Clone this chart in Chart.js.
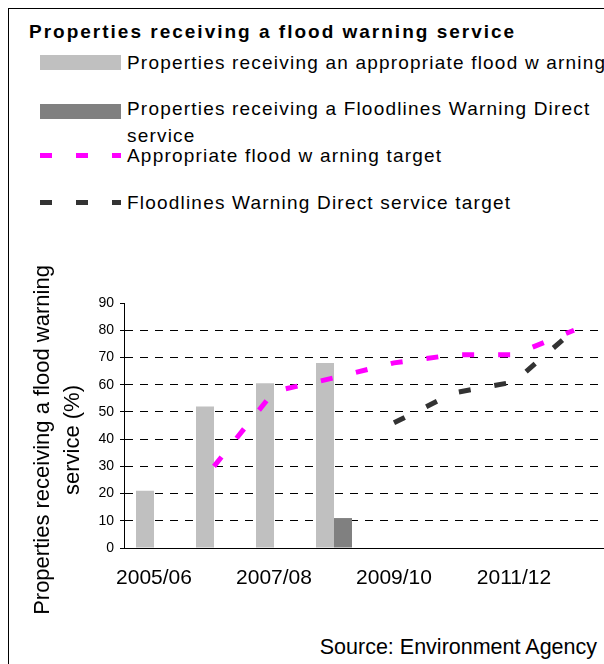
<!DOCTYPE html>
<html>
<head>
<meta charset="utf-8">
<title>Properties receiving a flood warning service</title>
<script src="https://cdn.jsdelivr.net/npm/chart.js@4.4.1/dist/chart.umd.min.js"></script>
<style>
  html, body { margin: 0; padding: 0; background: #fff; }
  body { width: 604px; height: 664px; position: relative; overflow: hidden;
         font-family: "Liberation Sans", Arial, sans-serif; color: #000; }
  #frame { position: absolute; left: 8px; top: 8px; width: 700px; height: 700px; border: 1px solid #000; }
  #title { position: absolute; left: 29px; top: 22px; font-size: 19px; font-weight: bold;
           letter-spacing: 2px; line-height: 20px; white-space: nowrap; }
  #legend { position: absolute; left: 40px; top: 0; width: 564px; }
  .item { position: absolute; left: 0; width: 600px; }
  .swatch { position: absolute; left: 0; width: 81px; }
  .label { position: absolute; left: 87px; width: 490px; font-size: 19px; line-height: 27px; letter-spacing: 1.2px; }
  #wrap { position: absolute; left: 0; top: 240px; width: 604px; height: 390px; }
  #ytitle { position: absolute; left: -143px; top: 410px; width: 400px; height: 60px;
            transform: rotate(-90deg); transform-origin: 50% 50%;
            text-align: center; font-size: 22px; line-height: 30px; white-space: nowrap; }
  #source { position: absolute; right: 7px; top: 637px; font-size: 21.5px; line-height: 21px; white-space: nowrap; }
</style>
</head>
<body>
<div id="frame"></div>
<div id="title">Properties receiving a flood warning service</div>
<div id="legend"></div>
<div id="wrap"><canvas id="chart" width="604" height="390"></canvas></div>
<div id="ytitle"></div>
<div id="source">Source: Environment Agency</div>
<script>
// data (%)
const categories = ['2005/06', '2006/07', '2007/08', '2008/09', '2009/10', '2010/11', '2011/12', '2012/13'];
const appropriateWarning = [21, 52, 60.5, 68, null, null, null, null];
const floodlinesDirect = [null, null, null, 11, null, null, null, null];
const appropriateTarget = [null, 30, 57.5, 62.5, 68, 71, 71, 80];
const floodlinesTarget = [null, null, null, null, 46, 57, 61, 80];
const xTickLabels = ['2005/06', '2007/08', '2009/10', '2011/12'];
const yMin = 0, yMax = 90, yStep = 10;
const yTitle = ['Properties receiving a flood warning', 'service (%)'];

const seriesNames = [
  'Properties receiving an appropriate flood w arning',
  'Properties receiving a Floodlines Warning Direct service',
  'Appropriate flood w arning target',
  'Floodlines Warning Direct service target'
];

// legend + y title drawn as html (the y title sits lower than chart.js would centre it)
const htmlParts = {
  id: 'htmlParts',
  afterUpdate(chart) {
    const box = document.getElementById('legend');
    box.innerHTML = '';
    chart.data.datasets.forEach((ds, i) => {
      const mid = 62 + i * 46.7;
      const item = document.createElement('div');
      item.className = 'item';
      item.style.top = (mid - 13.5) + 'px';
      const sw = document.createElement('div');
      sw.className = 'swatch';
      if (ds.type === 'line') {
        sw.style.top = '11px';
        sw.style.height = '5px';
        sw.style.background = 'repeating-linear-gradient(to right, ' + ds.borderColor +
          ' 0 12px, transparent 12px 36px)';
      } else {
        sw.style.top = (i === 1 ? 9 : 6) + 'px';
        sw.style.height = '15px';
        sw.style.background = ds.backgroundColor;
      }
      const lb = document.createElement('div');
      lb.className = 'label';
      lb.textContent = ds.label;
      item.appendChild(sw);
      item.appendChild(lb);
      box.appendChild(item);
    });
    const yt = document.getElementById('ytitle');
    yt.innerHTML = '';
    chart.options.scales.y.title.text.forEach((t) => {
      const d = document.createElement('div');
      d.textContent = t;
      yt.appendChild(d);
    });
  }
};

const lineStyle = {
  type: 'line',
  borderWidth: 5,
  borderDash: [12, 24],
  borderCapStyle: 'butt',
  pointRadius: 0,
  pointHoverRadius: 0,
  tension: 0,
  fill: false,
  order: 0
};

new Chart(document.getElementById('chart'), {
  type: 'bar',
  data: {
    labels: categories,
    datasets: [
      { label: seriesNames[0], data: appropriateWarning, backgroundColor: '#c0c0c0', order: 1 },
      { label: seriesNames[1], data: floodlinesDirect, backgroundColor: '#808080', order: 1 },
      Object.assign({ label: seriesNames[2], data: appropriateTarget, borderColor: '#ff00ff' }, lineStyle),
      Object.assign({ label: seriesNames[3], data: floodlinesTarget, borderColor: '#333333' }, lineStyle)
    ]
  },
  options: {
    responsive: false,
    animation: false,
    categoryPercentage: 0.6,
    barPercentage: 1.0,
    layout: { padding: { top: 63, right: 0, bottom: 0, left: 0 } },
    plugins: {
      legend: { display: false },
      tooltip: { enabled: false }
    },
    scales: {
      x: {
        grid: { display: false, drawTicks: false },
        border: { color: '#000', width: 1 },
        ticks: {
          autoSkip: false,
          maxRotation: 0,
          padding: 18,
          color: '#000',
          font: { family: 'Liberation Sans', size: 21 },
          callback: function (value) {
            const name = this.getLabelForValue(value);
            return xTickLabels.includes(name) ? name : '';
          }
        },
        afterFit(scale) { scale.height = 82; }
      },
      y: {
        min: yMin,
        max: yMax,
        grid: {
          color: (ctx) => (ctx.tick && (ctx.tick.value === yMin || ctx.tick.value === yMax)) ? 'rgba(0,0,0,0)' : '#000',
          tickColor: '#000',
          tickLength: 4,
          tickBorderDash: []
        },
        border: { color: '#000', width: 1, dash: [8, 7] },
        ticks: {
          stepSize: yStep,
          padding: 6,
          color: '#000',
          font: { family: 'Liberation Sans', size: 14 }
        },
        title: { display: false, text: yTitle },
        afterFit(scale) { scale.width = 124; }
      }
    }
  },
  plugins: [htmlParts]
});
</script>
</body>
</html>
